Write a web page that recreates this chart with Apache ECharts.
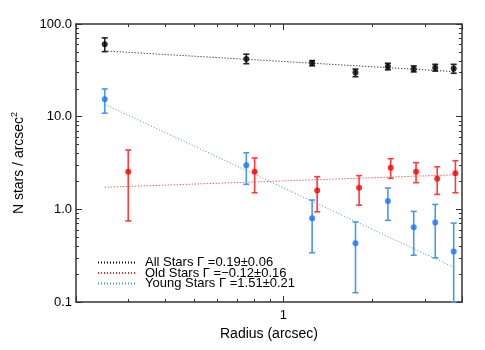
<!DOCTYPE html>
<html>
<head>
<meta charset="utf-8">
<script src="https://cdn.jsdelivr.net/npm/echarts@6/dist/echarts.min.js"></script>
<style>
  html, body { margin: 0; padding: 0; background: #fff; }
  #chart { width: 485px; height: 350px; }
</style>
</head>
<body>
<div id="chart"></div>
<script>
// radii (arcsec) of the bins
const radiiAll = [0.25, 0.75, 1.25, 1.75, 2.25, 2.75, 3.25, 3.75];
const radiiOld = [0.30, 0.80, 1.30, 1.80, 2.30, 2.80, 3.30, 3.80];

// surface density, N stars / arcsec^2
const allStars = [60.5, 42.0, 38.0, 29.9, 34.7, 32.7, 33.8, 33.0];
const allLow   = [50.3, 37.3, 35.4, 27.0, 32.0, 30.4, 31.0, 29.4];
const allHigh  = [70.8, 47.2, 40.3, 32.6, 37.7, 35.3, 36.7, 36.7];

const oldStars = [2.55, 2.55, 1.60, 1.71, 2.81, 2.55, 2.14, 2.45];
const oldLow   = [0.75, 1.51, 0.94, 1.11, 2.16, 1.94, 1.45, 1.51];
const oldHigh  = [4.37, 3.58, 2.25, 2.31, 3.52, 3.19, 2.88, 3.35];

const youngStars = [15.4, 2.99, 0.80, 0.43, 1.23, 0.64, 0.72, 0.35];
const youngLow   = [10.9, 1.86, 0.34, 0.126, 0.76, 0.32, 0.30, 0.10];
const youngHigh  = [19.9, 4.08, 1.26, 0.73, 1.70, 0.95, 1.13, 0.71];

// power-law fits (end points)
const fitRadii = [0.25, 3.8];
const allFit   = [51.2, 30.6];
const oldFit   = [1.73, 2.36];
const youngFit = [13.6, 0.232];

const fitNames = [
  'All Stars \u0393 =0.19\u00b10.06',
  'Old Stars \u0393 =\u22120.12\u00b10.16',
  'Young Stars \u0393 =1.51\u00b10.21'
];

const xLabels = [1];

const FONT = 'Liberation Sans, Arial, Helvetica, sans-serif';
const AXIS_COLOR = '#333';

const chart = echarts.init(document.getElementById('chart'));

function frameAxis(kind, position) {
  return {
    type: 'log',
    logBase: 10,
    position: position,
    min: kind === 'x' ? 0.2 : 0.1,
    max: kind === 'x' ? 4 : 100,
    axisLine: { show: true, onZero: false, lineStyle: { color: AXIS_COLOR, width: 1.5 } },
    axisTick: { show: true, inside: true, length: 6, lineStyle: { color: AXIS_COLOR, width: 1 } },
    minorTick: { show: true, splitNumber: 9, length: 3, lineStyle: { color: AXIS_COLOR, width: 1 } },
    axisLabel: { show: false },
    splitLine: { show: false },
    minorSplitLine: { show: false }
  };
}

const xBottom = frameAxis('x', 'bottom');
xBottom.name = 'Radius (arcsec)';
xBottom.nameLocation = 'middle';
xBottom.nameGap = 22;
xBottom.nameTextStyle = { fontFamily: FONT, fontSize: 14, color: '#000' };
xBottom.axisLabel = { show: true, customValues: xLabels, margin: 7, fontFamily: FONT, fontSize: 13, color: '#000' };

const yLeft = frameAxis('y', 'left');
yLeft.name = 'N stars / arcsec{sup|2}';
yLeft.nameLocation = 'middle';
yLeft.nameGap = 48;
yLeft.nameTextStyle = {
  fontFamily: FONT, fontSize: 14, color: '#000',
  rich: { sup: { fontFamily: FONT, fontSize: 9, color: '#000', verticalAlign: 'bottom', padding: [0, 0, 9, 0] } }
};
yLeft.axisLabel = {
  show: true, margin: 4, fontFamily: FONT, fontSize: 13, color: '#000',
  formatter: v => Number(v).toFixed(1)
};

function errorBars(name, radii, low, high, color) {
  return {
    type: 'custom',
    name: name,
    silent: true,
    z: 2,
    data: radii.map((r, i) => [r, low[i], high[i]]),
    encode: { x: 0, y: [1, 2] },
    renderItem: function (params, api) {
      const top = api.coord([api.value(0), api.value(2)]);
      const bot = api.coord([api.value(0), api.value(1)]);
      const cw = 3;
      const style = { stroke: color, lineWidth: 1.6 };
      return {
        type: 'group',
        children: [
          { type: 'line', shape: { x1: top[0], y1: top[1], x2: bot[0], y2: bot[1] }, style: style },
          { type: 'line', shape: { x1: top[0] - cw, y1: top[1], x2: top[0] + cw, y2: top[1] }, style: style },
          { type: 'line', shape: { x1: bot[0] - cw, y1: bot[1], x2: bot[0] + cw, y2: bot[1] }, style: style }
        ]
      };
    }
  };
}

function points(name, radii, vals, color) {
  return {
    type: 'scatter',
    name: name,
    data: radii.map((r, i) => [r, vals[i]]),
    symbol: 'circle',
    symbolSize: 6,
    itemStyle: { color: color },
    z: 3,
    silent: true
  };
}

function fitLine(name, vals, color) {
  return {
    type: 'line',
    name: name,
    data: fitRadii.map((r, i) => [r, vals[i]]),
    symbol: 'none',
    lineStyle: { color: color, width: 1, type: [1, 2] },
    itemStyle: { color: color },
    z: 1,
    silent: true
  };
}

const option = {
  animation: false,
  backgroundColor: '#fff',
  grid: { left: 76, right: 23, top: 24, bottom: 48 },
  legend: {
    data: fitNames.map(n => ({ name: n, itemStyle: { opacity: 0 } })),
    orient: 'vertical',
    left: 92,
    top: 251,
    itemWidth: 39,
    itemHeight: 8,
    itemGap: -2.5,
    selectedMode: false,
    textStyle: { fontFamily: FONT, fontSize: 13, color: '#000', lineHeight: 11, padding: [0, 0, 0, 3] }
  },
  xAxis: [xBottom, frameAxis('x', 'top')],
  yAxis: [yLeft, frameAxis('y', 'right')],
  series: [
    fitLine(fitNames[0], allFit, '#000'),
    fitLine(fitNames[1], oldFit, '#ff1a1a'),
    fitLine(fitNames[2], youngFit, '#3d8ef0'),
    errorBars('allErr', radiiAll, allLow, allHigh, '#222'),
    errorBars('oldErr', radiiOld, oldLow, oldHigh, '#ff3b3b'),
    errorBars('youngErr', radiiAll, youngLow, youngHigh, '#4a97f0'),
    points('all', radiiAll, allStars, '#000'),
    points('old', radiiOld, oldStars, '#ff0000'),
    points('young', radiiAll, youngStars, '#1477ff')
  ]
};

chart.setOption(option);
</script>
</body>
</html>
